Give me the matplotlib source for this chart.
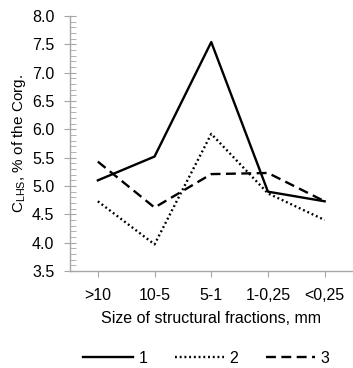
import matplotlib
matplotlib.use("Agg")
import matplotlib.pyplot as plt
from matplotlib.ticker import MultipleLocator, FormatStrFormatter

plt.rcParams["font.family"] = ["Liberation Sans", "DejaVu Sans"]
plt.rcParams["mathtext.fontset"] = "custom"
plt.rcParams["mathtext.rm"] = "Liberation Sans"

fractions = [">10", "10-5", "5-1", "1-0,25", "<0,25"]
series1 = [5.1, 5.52, 7.54, 4.9, 4.73]
series2 = [4.73, 3.97, 5.92, 4.87, 4.4]
series3 = [5.43, 4.62, 5.21, 5.23, 4.73]

fig = plt.figure(figsize=(3.53, 3.68), dpi=100)
ax = fig.add_axes([69.5 / 353, 1 - 271 / 368, 1 - 69.5 / 353, 255 / 368])

x = range(len(fractions))
ax.plot(x, series1, color="black", lw=1.7, ls="-", label="1")
ax.plot(x, series2, color="black", lw=1.7, ls=(0, (0.8, 1.2)), label="2")
ax.plot(x, series3, color="black", lw=1.7, ls=(0, (4.2, 2.3)), label="3")

ax.set_xlim(-0.5, 4.5)
ax.set_ylim(3.5, 8.0)
ax.set_xticks(list(x))
ax.set_xticklabels(fractions)
ax.yaxis.set_major_locator(MultipleLocator(0.5))
ax.yaxis.set_minor_locator(MultipleLocator(0.1))
ax.yaxis.set_major_formatter(FormatStrFormatter("%.1f"))

for s in ["top", "right"]:
    ax.spines[s].set_visible(False)
for s in ["left", "bottom"]:
    ax.spines[s].set_color("#a6a6a6")
    ax.spines[s].set_linewidth(1.0)

ax.tick_params(axis="y", which="major", direction="inout", length=8, color="#a6a6a6",
               labelsize=11.5, pad=7)
ax.tick_params(axis="y", which="minor", direction="in", length=4, color="#a6a6a6")
ax.tick_params(axis="x", which="major", direction="out", length=4, color="#a6a6a6",
               labelsize=11.5, pad=8)

ax.set_ylabel(r"C$_{\mathregular{LHS}}$, % of the Corg.", fontsize=11, labelpad=3)
ax.set_xlabel("Size of structural fractions, mm", fontsize=11.5, labelpad=6)

fig.legend(loc="center", bbox_to_anchor=(0.585, 0.026), ncol=3, frameon=False,
           fontsize=11.5, handlelength=3.1, columnspacing=1.7, handletextpad=0.35)

fig.savefig("out.png", dpi=100)
